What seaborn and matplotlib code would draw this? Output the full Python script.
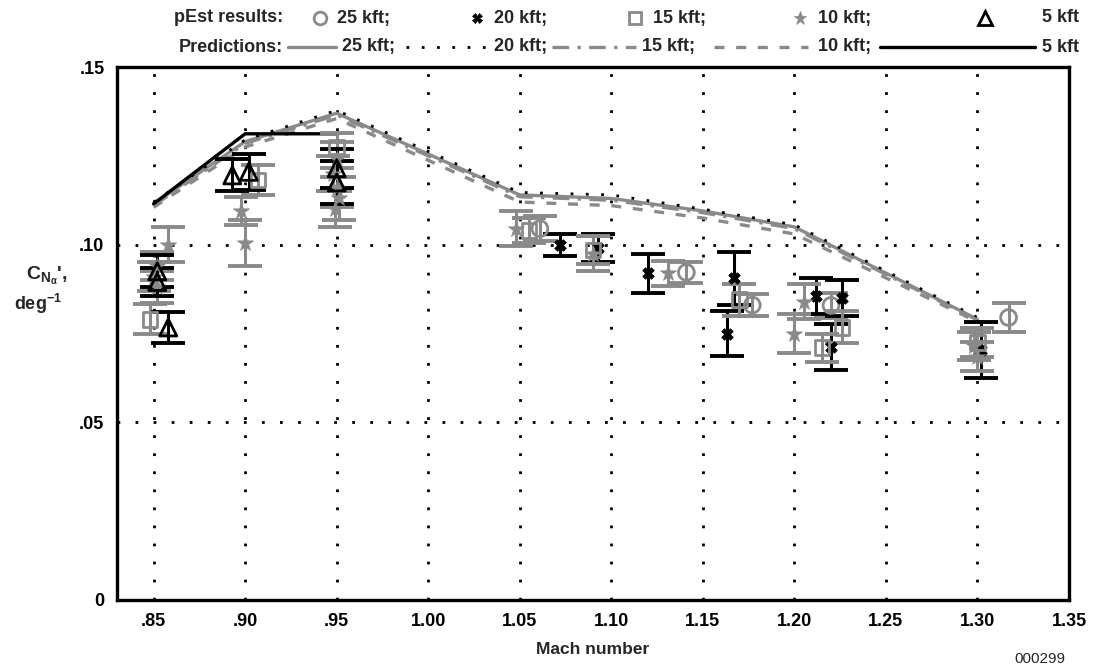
import numpy as np
import pandas as pd
import matplotlib
matplotlib.use("Agg")
import matplotlib.pyplot as plt
from matplotlib.lines import Line2D
import seaborn as sns

# ---------------- data ----------------
# pEst results (Mach, CN_alpha', half error bar)
m25 = [1.061, 1.141, 1.177, 1.220, 1.317]
c25 = [0.1045, 0.0922, 0.0830, 0.0829, 0.0795]
e25 = [0.0035, 0.0030, 0.0030, 0.0035, 0.0042]

m20 = [1.072, 1.093, 1.120, 1.163, 1.167, 1.212, 1.226, 1.220, 1.302]
c20 = [0.1000, 0.0990, 0.0920, 0.0750, 0.0905, 0.0855, 0.0850, 0.0712, 0.0704]
e20 = [0.0031, 0.0040, 0.0055, 0.0063, 0.0075, 0.0050, 0.0050, 0.0066, 0.0079]

m15 = [0.848, 0.907, 0.950, 1.055, 1.090, 1.170, 1.226, 1.215, 1.300]
c15 = [0.0790, 0.1182, 0.1275, 0.1040, 0.0985, 0.0845, 0.0767, 0.0710, 0.0725]
e15 = [0.0042, 0.0043, 0.0040, 0.0035, 0.0040, 0.0045, 0.0045, 0.0040, 0.0040]

m10 = [0.852, 0.850, 0.852, 0.858, 0.900, 0.898, 0.950, 0.948, 0.950, 0.951,
       0.949, 1.048, 1.090, 1.131, 1.205, 1.200, 1.300, 1.298]
c10 = [0.0940, 0.0910, 0.0880, 0.1000, 0.1005, 0.1095, 0.1240, 0.1200, 0.1160, 0.1130,
       0.1100, 0.1045, 0.0975, 0.0920, 0.0840, 0.0750, 0.0685, 0.0715]
e10 = [0.0040, 0.0040, 0.0045, 0.0050, 0.0065, 0.0040, 0.0050, 0.0050, 0.0055, 0.0060,
       0.0050, 0.0050, 0.0050, 0.0035, 0.0050, 0.0055, 0.0040, 0.0040]

m5 = [0.852, 0.852, 0.858, 0.893, 0.902, 0.950, 0.950]
c5 = [0.0925, 0.0895, 0.0767, 0.1195, 0.1205, 0.1215, 0.1175]
e5 = [0.0045, 0.0040, 0.0043, 0.0045, 0.0050, 0.0055, 0.0060]

# Predictions
mp = [0.85, 0.90, 0.95, 1.05, 1.10, 1.15, 1.20, 1.30]
p25 = [0.1115, 0.1290, 0.1370, 0.1140, 0.1130, 0.1095, 0.1050, 0.0790]
p20 = [0.1120, 0.1295, 0.1378, 0.1147, 0.1140, 0.1100, 0.1056, 0.0795]
p15 = [0.1110, 0.1285, 0.1365, 0.1135, 0.1125, 0.1090, 0.1045, 0.0788]
p10 = [0.1105, 0.1275, 0.1355, 0.1120, 0.1110, 0.1075, 0.1030, 0.0783]
mp5 = [0.85, 0.90, 0.95]
p5 = [0.1115, 0.1312, 0.1312]

alt_labels = ["25 kft;", "20 kft;", "15 kft;", "10 kft;", "5 kft"]
x_ticks = [0.85, 0.90, 0.95, 1.00, 1.05, 1.10, 1.15, 1.20, 1.25, 1.30, 1.35]
x_ticklabels = [".85", ".90", ".95", "1.00", "1.05", "1.10", "1.15", "1.20", "1.25", "1.30", "1.35"]
y_ticks = [0, 0.05, 0.10, 0.15]
y_ticklabels = ["0", ".05", ".10", ".15"]

# ---------------- style ----------------
sns.set_theme(style="white")
plt.rcParams["font.family"] = ["Liberation Sans", "DejaVu Sans"]
plt.rcParams["font.weight"] = "bold"
plt.rcParams["mathtext.fontset"] = "custom"
plt.rcParams["mathtext.rm"] = "Liberation Sans:bold"
plt.rcParams["mathtext.it"] = "Liberation Sans:bold"
plt.rcParams["mathtext.bf"] = "Liberation Sans:bold"
plt.rcParams["mathtext.default"] = "rm"

GRAY = "#8a8a8a"
BLACK = "#000000"

fig = plt.figure(figsize=(10.98, 6.66), dpi=100)
ax = fig.add_axes([117 / 1098, 66 / 666, (1069 - 117) / 1098, 533 / 666])

# dotted grid
for xv in x_ticks[:-1]:
    ax.axvline(xv, color="black", lw=2.0, ls=(0, (1, 5.5)), zorder=0.5)
for yv in [0.05, 0.10]:
    ax.axhline(yv, color="black", lw=2.0, ls=(0, (1, 5.5)), zorder=0.5)

# prediction lines
pred = [
    (mp, p25, GRAY, "-", 2.4),
    (mp, p20, BLACK, (0, (1, 4.5)), 2.0),
    (mp, p15, GRAY, (0, (5, 2.5, 1, 2.5)), 2.4),
    (mp, p10, GRAY, (0, (3, 3.5)), 2.4),
    (mp5, p5, BLACK, "-", 2.4),
]
for mm, pp, col, ls, lw in pred:
    sns.lineplot(x=mm, y=pp, ax=ax, color=col, linestyle=ls, lw=lw,
                 sort=False, estimator=None, legend=False, zorder=2)

# pEst results with error bars
groups = [
    (m25, c25, e25, GRAY, "o", 130, "none", GRAY),
    (m20, c20, e20, BLACK, "X", 70, BLACK, "none"),
    (m15, c15, e15, GRAY, "s", 110, "none", GRAY),
    (m10, c10, e10, GRAY, "*", 150, GRAY, "none"),
    (m5, c5, e5, BLACK, "^", 150, "none", BLACK),
]
for mm, cc, ee, col, mk, sz, fc, ec in groups:
    ax.errorbar(mm, cc, yerr=ee, fmt="none", ecolor=col, elinewidth=2.2,
                capsize=12, capthick=2.8, zorder=3)
    df = pd.DataFrame({"Mach": mm, "CN": cc})
    sns.scatterplot(data=df, x="Mach", y="CN", ax=ax, marker=mk, s=sz,
                    facecolor=fc if fc != "none" else "none",
                    edgecolor=ec if ec != "none" else col,
                    linewidth=2.0 if fc == "none" else 0.5,
                    legend=False, zorder=4)

ax.set_xlim(0.83, 1.35)
ax.set_ylim(0, 0.15)
ax.set_xticks(x_ticks)
ax.set_xticklabels(x_ticklabels)
ax.set_yticks(y_ticks)
ax.set_yticklabels(y_ticklabels)
ax.tick_params(direction="in", length=8, width=2.5, labelsize=13, pad=9,
               colors="black")
for lab in ax.get_xticklabels() + ax.get_yticklabels():
    lab.set_fontweight("bold")
for sp in ax.spines.values():
    sp.set_linewidth(2.4)
    sp.set_color("black")
    sp.set_visible(True)
ax.set_xlabel("Mach number", fontsize=12.5, fontweight="bold", labelpad=9)
ax.set_ylabel("")

# y label (horizontal, two lines)
fig.text(0.043, 1 - 276 / 666, r"$C_{N_{\alpha}}$',", fontsize=14, ha="center",
         va="center", fontweight="bold")
fig.text(0.035, 1 - 304 / 666, r"deg$^{-1}$", fontsize=13, ha="center",
         va="center", fontweight="bold")

fig.text(1065 / 1098, 1 - 659 / 666, "000299", fontsize=11, ha="right",
         va="center", fontweight="normal")

# ---------------- legend (two rows above the plot) ----------------
def fx(px):
    return px / 1098

def fy(py):
    return 1 - py / 666

row1 = fy(18)
row2 = fy(47)
fs = 13
fig.text(fx(283), row1, "pEst results:", ha="right", va="center", fontsize=fs,
         fontweight="bold")
fig.text(fx(283), row2, "Predictions:", ha="right", va="center", fontsize=fs,
         fontweight="bold")

mk_x = [320, 477, 635, 800, 985]
txt_x = [337, 494, 653, 818, 1042]
for (mm, cc, ee, col, mk, sz, fc, ec), mx, tx, lab in zip(groups, mk_x, txt_x, alt_labels):
    fig.add_artist(Line2D([fx(mx)], [row1], marker=mk, markersize=np.sqrt(sz) * 0.8,
                          markerfacecolor=fc, markeredgecolor=col,
                          markeredgewidth=2.0 if fc == "none" else 0.5,
                          linestyle="none", transform=fig.transFigure))
    fig.text(fx(tx), row1, lab, ha="left", va="center", fontsize=fs, fontweight="bold")

seg = [(288, 336), (406, 488), (552, 636), (714, 808), (880, 1035)]
txt2 = [342, 494, 642, 818, 1042]
for (mm, pp, col, ls, lw), (a, b), tx, lab in zip(pred, seg, txt2, alt_labels):
    fig.add_artist(Line2D([fx(a), fx(b)], [row2, row2], color=col, linestyle=ls,
                          lw=lw, transform=fig.transFigure))
    fig.text(fx(tx), row2, lab, ha="left", va="center", fontsize=fs, fontweight="bold")

fig.savefig("out.png", dpi=100)
